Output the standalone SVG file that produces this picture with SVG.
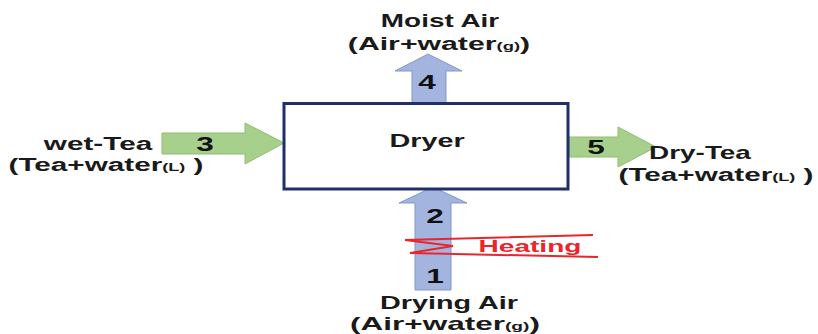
<svg xmlns="http://www.w3.org/2000/svg" width="818" height="334" viewBox="0 0 818 334">
<style>
.t{font-family:"Liberation Sans",Arial,sans-serif;font-weight:bold;fill:#1a1a1a;text-anchor:middle}
.lbl{font-size:18px}
.sub{font-size:11px}
.num{font-size:21px;fill:#111}
.heat{font-size:17px;fill:#e8262c}
.blue{fill:#a3b4de;stroke:#8397cb;stroke-width:1}
.green{fill:#a8d08d;stroke:#8dbf70;stroke-width:1}
</style>
<rect width="818" height="334" fill="#ffffff"/>
<g id="connectors">
  <g id="arrow4">
    <polygon class="blue" points="412,103 412,71 395,71 428,54 462,71 446,71 446,103"/>
    <text class="t num" transform="translate(427,89) scale(1.5,1)">4</text>
  </g>
  <g id="arrow3">
    <polygon class="green" points="162,133 245,133 245,123 284,143 245,164 245,154 162,154"/>
    <text class="t num" transform="translate(205,151) scale(1.5,1)">3</text>
  </g>
  <g id="arrow5">
    <polygon class="green" points="569,137 618,137 618,127 656,147 618,167 618,157 569,157"/>
    <text class="t num" transform="translate(596,154) scale(1.5,1)">5</text>
  </g>
  <g id="arrow12">
    <polygon class="blue" points="415,290 415,203 399,203 433,187 467,203 451,203 451,290"/>
    <text class="t num" transform="translate(435,223) scale(1.5,1)">2</text>
    <text class="t num" transform="translate(435,283) scale(1.5,1)">1</text>
  </g>
</g>
<g id="heating">
  <polyline points="593,235 405,240 453,246 410,253 598,257" fill="none" stroke="#e8262c" stroke-width="2" stroke-linejoin="miter"/>
  <text class="t heat" transform="translate(530,252) scale(1.65,1)">Heating</text>
</g>
<g id="dryer">
  <rect x="284" y="103.5" width="284" height="85.5" fill="#ffffff" stroke="#1f2f6b" stroke-width="3"/>
  <text class="t lbl" transform="translate(427,147) scale(1.6,1)">Dryer</text>
</g>
<g id="moist-air">
  <text class="t lbl" transform="translate(440,27) scale(1.55,1)">Moist Air</text>
  <text class="t lbl" transform="translate(439,50) scale(1.68,1)">(Air+water<tspan class="sub">(g)</tspan>)</text>
</g>
<g id="wet-tea">
  <text class="t lbl" transform="translate(98,150) scale(1.65,1)">wet-Tea</text>
  <text class="t lbl" transform="translate(106,171) scale(1.65,1)">(Tea+water<tspan class="sub">(L)</tspan> )</text>
</g>
<g id="dry-tea">
  <text class="t lbl" transform="translate(700,159) scale(1.55,1)">Dry-Tea</text>
  <text class="t lbl" transform="translate(716,181) scale(1.65,1)">(Tea+water<tspan class="sub">(L)</tspan> )</text>
</g>
<g id="drying-air">
  <text class="t lbl" transform="translate(449,309) scale(1.6,1)">Drying Air</text>
  <text class="t lbl" transform="translate(445,330) scale(1.75,1)">(Air+water<tspan class="sub">(g)</tspan>)</text>
</g>
</svg>
